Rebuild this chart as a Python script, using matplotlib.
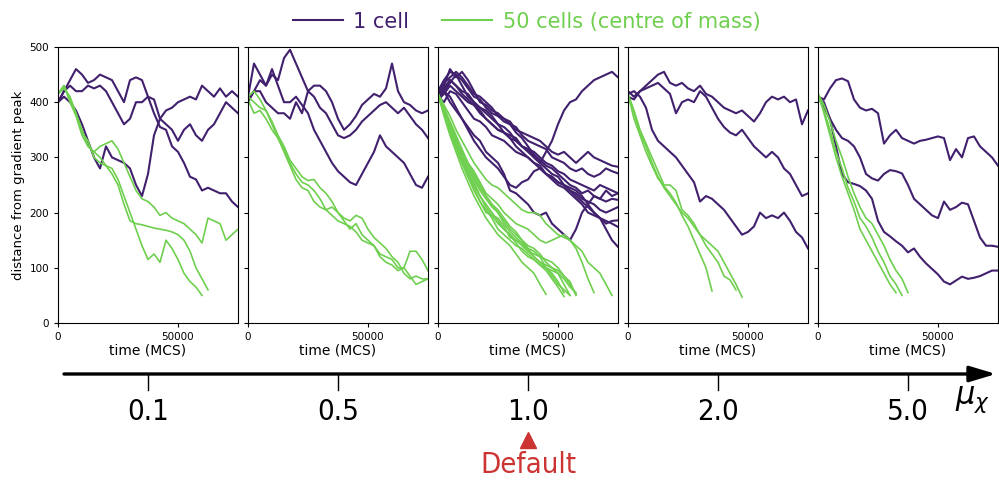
import numpy as np
import matplotlib
matplotlib.use("Agg")
import matplotlib.pyplot as plt
from matplotlib.lines import Line2D
from matplotlib.patches import FancyArrowPatch

# sampling interval of the digitised runs (MCS)
T_STEP = 2500

purple = "#41206e"
green = "#6fcf4f"
red = "#cc3333"

mu_labels = ["0.1", "0.5", "1.0", "2.0", "5.0"]
default_label = "1.0"

# ---- 1 cell runs, distance from gradient peak, one value every T_STEP MCS ----
single_01 = [
    [400, 420, 440, 460, 450, 435, 440, 450, 445, 440, 420, 400, 440, 445, 440, 410,
     380, 355, 350, 320, 310, 290, 265, 260, 240, 245, 240, 235, 235, 220, 210],
    [400, 420, 430, 420, 420, 430, 425, 430, 420, 400, 380, 360, 370, 400, 400, 410,
     405, 370, 360, 350, 330, 350, 360, 340, 330, 350, 360, 380, 400, 390, 380],
    [400, 410, 400, 385, 360, 330, 300, 280, 320, 300, 295, 290, 280, 250, 230, 270,
     340, 370, 385, 390, 400, 405, 410, 405, 430, 420, 410, 425, 410, 420, 410],
]
single_05 = [
    [400, 420, 440, 430, 450, 440, 480, 495, 470, 445, 420, 430, 430, 420, 400, 370,
     350, 360, 375, 395, 405, 415, 410, 425, 470, 420, 400, 395, 385, 380, 385],
    [410, 470, 450, 430, 460, 430, 400, 400, 410, 395, 380, 350, 330, 310, 290, 275,
     265, 255, 250, 270, 290, 310, 340, 320, 310, 300, 290, 270, 250, 245, 265],
    [405, 420, 420, 400, 390, 380, 380, 370, 400, 380, 420, 410, 390, 380, 360, 340,
     335, 340, 350, 365, 375, 385, 395, 400, 390, 380, 390, 375, 360, 350, 335],
]
single_10 = [
    [410, 425, 440, 430, 415, 405, 395, 380, 370, 360, 350, 345, 335, 330, 320, 315,
     300, 290, 310, 330, 360, 385, 400, 405, 420, 430, 440, 445, 450, 455, 445],
    [415, 420, 400, 385, 370, 355, 340, 330, 310, 300, 290, 270, 240, 235, 225, 215,
     200, 195, 200, 180, 170, 160, 150, 170, 200, 215, 230, 225, 240, 230, 235],
    [420, 440, 455, 450, 430, 410, 400, 390, 380, 370, 360, 355, 345, 330, 320, 310,
     300, 290, 280, 270, 265, 250, 240, 230, 220, 210, 200, 190, 170, 150, 138],
    [410, 430, 460, 445, 455, 440, 420, 400, 395, 385, 380, 370, 365, 350, 345, 340,
     335, 330, 320, 310, 305, 310, 300, 290, 300, 310, 300, 295, 290, 285, 283],
    [400, 420, 435, 450, 440, 425, 410, 405, 390, 380, 375, 370, 360, 355, 340, 330,
     325, 320, 315, 300, 295, 290, 280, 275, 280, 270, 265, 270, 280, 275, 271],
    [405, 415, 430, 420, 410, 400, 395, 385, 370, 360, 350, 345, 340, 335, 320, 315,
     310, 300, 290, 285, 275, 270, 260, 255, 250, 245, 240, 250, 245, 240, 235],
    [415, 435, 445, 455, 445, 430, 415, 410, 400, 390, 375, 365, 360, 345, 335, 320,
     305, 295, 285, 280, 270, 260, 250, 245, 235, 240, 230, 225, 220, 225, 223],
    [410, 400, 420, 415, 400, 385, 370, 365, 355, 340, 335, 330, 320, 310, 305, 300,
     290, 285, 270, 265, 255, 250, 240, 235, 225, 220, 215, 205, 200, 205, 210],
    [405, 425, 440, 430, 420, 415, 400, 390, 385, 375, 360, 345, 335, 320, 310, 300,
     290, 280, 270, 260, 250, 245, 235, 225, 215, 200, 195, 190, 180, 185, 186],
    [410, 420, 410, 390, 370, 350, 330, 315, 300, 290, 280, 265, 250, 245, 255, 260,
     275, 280, 270, 265, 255, 250, 245, 240, 230, 215, 200, 190, 185, 180, 174],
]
single_20 = [
    [410, 405, 420, 430, 440, 450, 455, 435, 430, 435, 425, 420, 430, 415, 410, 400,
     390, 385, 380, 385, 375, 365, 380, 400, 410, 405, 410, 400, 405, 360, 385],
    [420, 410, 420, 425, 430, 435, 425, 415, 380, 400, 405, 400, 420, 410, 390, 370,
     355, 345, 340, 350, 335, 320, 310, 300, 310, 300, 280, 270, 250, 230, 235],
    [415, 420, 410, 390, 350, 330, 320, 310, 300, 285, 270, 255, 220, 230, 225, 215,
     205, 190, 175, 160, 165, 175, 200, 190, 195, 190, 200, 185, 165, 155, 135],
]
single_50 = [
    [410, 405, 425, 440, 443, 438, 405, 390, 385, 388, 380, 325, 340, 350, 335, 330,
     325, 330, 332, 335, 338, 335, 295, 315, 300, 335, 338, 320, 310, 300, 285],
    [410, 390, 370, 350, 335, 330, 320, 300, 270, 262, 258, 270, 277, 275, 271, 250,
     225, 215, 205, 195, 190, 220, 205, 210, 218, 215, 185, 155, 140, 140, 138],
    [410, 400, 370, 320, 270, 255, 252, 248, 240, 225, 185, 165, 157, 148, 140, 128,
     135, 120, 108, 98, 88, 75, 70, 77, 84, 80, 82, 85, 90, 95, 95],
]

# ---- 50 cells, centre of mass ----
com_01 = [
    [415, 430, 400, 375, 340, 320, 310, 320, 325, 330, 315, 290, 265, 240, 225, 220,
     210, 195, 200, 190, 185, 180, 170, 160, 145, 190, 185, 180, 150, 160, 170],
    [415, 425, 410, 380, 350, 320, 310, 300, 285, 270, 250, 215, 185, 180, 178, 175,
     172, 170, 168, 165, 160, 150, 130, 100, 80, 60],
    [415, 430, 405, 380, 345, 330, 300, 290, 285, 280, 260, 230, 200, 170, 140, 115,
     125, 110, 150, 135, 115, 90, 75, 65, 50],
]
com_05 = [
    [410, 420, 405, 385, 365, 340, 320, 295, 280, 265, 258, 260, 245, 235, 220, 200,
     190, 185, 195, 190, 170, 155, 145, 135, 120, 110, 90, 80, 85, 80, 80],
    [410, 400, 390, 385, 360, 335, 315, 290, 270, 255, 250, 240, 225, 205, 210, 200,
     185, 170, 180, 160, 150, 140, 125, 120, 115, 100, 100, 130, 130, 115, 95],
    [405, 380, 385, 370, 350, 335, 310, 285, 260, 245, 240, 220, 210, 205, 195, 185,
     180, 175, 165, 150, 145, 140, 120, 110, 105, 95, 100, 85, 70, 75, 80],
]
com_10 = [
    [415, 395, 375, 350, 330, 310, 290, 275, 260, 250, 245, 235, 225, 215, 205, 200,
     200, 195, 180, 170, 160, 155, 150, 140, 130, 110, 100, 90, 70, 50],
    [415, 390, 365, 340, 315, 290, 275, 255, 235, 225, 215, 200, 190, 180, 175, 170,
     160, 150, 145, 150, 155, 160, 150, 135, 110, 80, 55],
    [415, 385, 355, 330, 300, 280, 260, 240, 225, 210, 200, 180, 165, 155, 145, 135,
     130, 120, 115, 110, 100, 85, 70, 52],
    [415, 380, 350, 320, 295, 270, 250, 230, 210, 195, 180, 170, 160, 145, 130, 120,
     115, 105, 100, 95, 90, 80, 65, 55],
    [415, 380, 345, 315, 290, 265, 245, 220, 205, 190, 170, 160, 150, 140, 135, 125,
     115, 105, 95, 80, 65, 48],
    [415, 375, 340, 310, 280, 255, 230, 210, 190, 175, 160, 150, 140, 125, 110, 100,
     90, 70, 52],
    [415, 385, 350, 325, 300, 275, 255, 230, 215, 200, 185, 170, 160, 150, 140, 130,
     125, 120, 100, 85, 70, 60, 50],
    [415, 390, 360, 335, 305, 285, 265, 245, 230, 215, 205, 190, 175, 165, 150, 140,
     135, 125, 110, 100, 95, 85, 75, 50],
    [415, 380, 345, 320, 290, 265, 240, 220, 200, 195, 190, 175, 155, 150, 145, 130,
     120, 110, 105, 100, 90, 70, 50],
    [415, 385, 355, 330, 310, 290, 270, 250, 230, 215, 200, 185, 170, 160, 150, 135,
     120, 110, 100, 90, 75, 55],
]
com_20 = [
    [415, 370, 340, 310, 285, 262, 248, 235, 218, 195, 175, 150, 125, 100, 58],
    [415, 380, 345, 320, 290, 265, 245, 230, 215, 200, 190, 175, 160, 140, 125, 110,
     85, 78, 60],
    [415, 385, 350, 325, 300, 275, 250, 250, 240, 205, 195, 180, 160, 150, 140, 130,
     110, 90, 70, 47],
]
com_50 = [
    [415, 380, 340, 300, 265, 235, 205, 170, 150, 130, 110, 90, 70, 55],
    [415, 385, 350, 310, 280, 245, 220, 190, 175, 155, 130, 110, 85, 70, 50],
    [415, 395, 365, 330, 300, 265, 235, 210, 190, 180, 160, 140, 115, 95, 80, 55],
]

single_runs = [single_01, single_05, single_10, single_20, single_50]
com_runs = [com_01, com_05, com_10, com_20, com_50]

W, H = 999, 480
fig = plt.figure(figsize=(W / 100, H / 100), dpi=100)

ax_left = [58, 248, 438, 628, 818]
ax_w = 180
ax_bottom = (H - 323) / H
ax_h = (323 - 47) / H

axes = []
for i, label in enumerate(mu_labels):
    ax = fig.add_axes([ax_left[i] / W, ax_bottom, ax_w / W, ax_h])
    for run in single_runs[i]:
        t = np.arange(len(run)) * T_STEP
        ax.plot(t, run, color=purple, lw=1.5)
    for run in com_runs[i]:
        t = np.arange(len(run)) * T_STEP
        ax.plot(t, run, color=green, lw=1.2)
    ax.set_xlim(0, 75000)
    ax.set_ylim(0, 500)
    ax.set_xticks([0, 50000])
    ax.set_yticks([0, 100, 200, 300, 400, 500])
    ax.tick_params(labelsize=7.5, length=3)
    ax.set_xlabel("time (MCS)", fontsize=10, labelpad=1)
    if i == 0:
        ax.set_ylabel("distance from gradient peak", fontsize=9.5, labelpad=3)
    else:
        ax.set_yticklabels([])
    axes.append(ax)

# legend on top
handles = [Line2D([], [], color=purple, lw=1.5, label="1 cell"),
           Line2D([], [], color=green, lw=1.5, label="50 cells (centre of mass)")]
fig.legend(handles=handles, loc="center", bbox_to_anchor=(0.527, 0.955), ncol=2,
           frameon=False, fontsize=15, labelcolor="linecolor", handlelength=2.4,
           columnspacing=1.6, handletextpad=0.5)

# mu_chi axis under the panels
arrow_y = 1 - 374 / H
fig.add_artist(FancyArrowPatch(
    (64 / W, arrow_y), (996 / W, arrow_y), transform=fig.transFigure,
    arrowstyle="-|>,head_length=8,head_width=2.4", mutation_scale=2,
    color="black", lw=2.4, shrinkA=0, shrinkB=0))
for i, label in enumerate(mu_labels):
    x0, _ = axes[i].transAxes.transform((0.5, 0))
    xc = fig.transFigure.inverted().transform((x0, 0))[0]
    fig.add_artist(Line2D([xc, xc], [arrow_y, 1 - 390 / H], color="black", lw=1,
                          transform=fig.transFigure))
    fig.text(xc, 1 - 412 / H, label, ha="center", va="center", fontsize=21,
             fontstretch="condensed")
    if label == default_label:
        fig.add_artist(Line2D([xc], [1 - 440 / H], marker="^", markersize=12,
                              color=red, transform=fig.transFigure))
        fig.text(xc, 1 - 465 / H, "Default", ha="center", va="center",
                 fontsize=21, color=red, fontstretch="condensed")

fig.text(973 / W, 1 - 400 / H, r"$\mu_\chi$", ha="center", va="center", fontsize=22)

fig.savefig("out.png", dpi=100)
